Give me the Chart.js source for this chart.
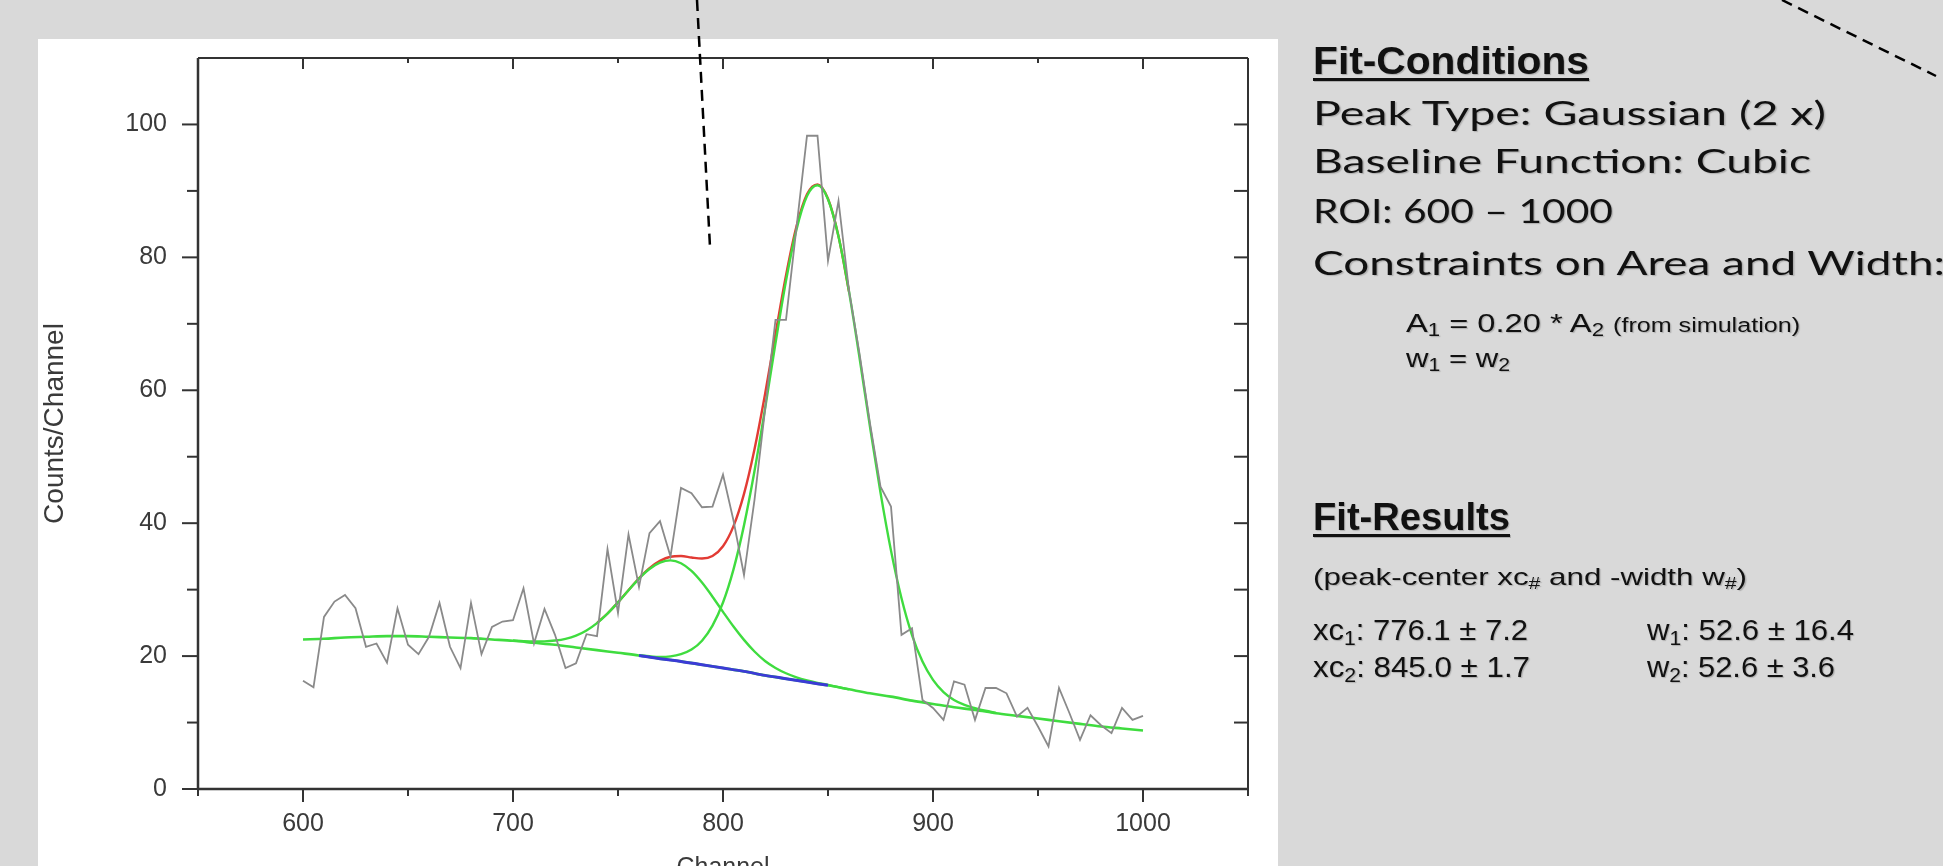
<!DOCTYPE html>
<html>
<head>
<meta charset="utf-8">
<title>Peak fit</title>
<script src="https://cdn.jsdelivr.net/npm/chart.js@4.4.1/dist/chart.umd.min.js"></script>
<style>
  html, body { margin: 0; padding: 0; }
  body {
    width: 1943px; height: 866px; overflow: hidden;
    background: #d9d9d9; position: relative;
    font-family: 'Liberation Sans', Arial, sans-serif; color: #111;
  }
  #panel { position: absolute; left: 38px; top: 39px; width: 1240px; height: 840px; background: #fff; }
  #chartBox { position: absolute; left: 38px; top: 39px; width: 1240px; height: 860px; }
  #marks { position: absolute; left: 0; top: 0; pointer-events: none; }
  .ln {
    position: absolute; white-space: nowrap; line-height: 1;
    transform-origin: 0 0; text-shadow: 1px 1px 1px rgba(0,0,0,0.2);
  }
  .hd { font-weight: bold; text-decoration: underline; text-decoration-thickness: 3px; text-underline-offset: 4px; }
  .body { font-family: 'Lato', 'Open Sans', sans-serif; font-size: 32px; }
  .ln sub { font-size: 0.68em; vertical-align: -0.25em; }
  .small { font-size: 20px; }
</style>
</head>
<body>
<div id="panel"></div>
<div id="chartBox"><canvas id="fitChart" width="1240" height="860"></canvas></div>

<svg id="marks" width="1943" height="866">
  <line x1="697" y1="0" x2="710" y2="247" stroke="#000" stroke-width="2.5" stroke-dasharray="11 7"/>
  <line x1="1782" y1="0" x2="1936" y2="76" stroke="#000" stroke-width="2.5" stroke-dasharray="11 7"/>
</svg>

<div class="ln hd" style="left:1313px;top:42px;font-size:38px" data-w="276">Fit-Conditions</div>
<div class="ln body" style="left:1313px;top:97px" data-w="513">Peak Type: Gaussian (2 x)</div>
<div class="ln body" style="left:1313px;top:145px" data-w="498">Baseline Function: Cubic</div>
<div class="ln body" style="left:1313px;top:195px" data-w="300">ROI: 600 – 1000</div>
<div class="ln body" style="left:1313px;top:247px" data-w="632">Constraints on Area and Width:</div>
<div class="ln" style="left:1406px;top:310px;font-size:26px" data-w="394">A<sub>1</sub> = 0.20 * A<sub>2</sub> <span class="small">(from simulation)</span></div>
<div class="ln" style="left:1406px;top:345px;font-size:26px" data-w="104">w<sub>1</sub> = w<sub>2</sub></div>

<div class="ln hd" style="left:1313px;top:497px;font-size:39px" data-w="197">Fit-Results</div>
<div class="ln" style="left:1313px;top:565px;font-size:24px" data-w="434">(peak-center xc<sub>#</sub> and -width w<sub>#</sub>)</div>
<div class="ln" style="left:1313px;top:616px;font-size:29px" data-w="215">xc<sub>1</sub>: 776.1 ± 7.2</div>
<div class="ln" style="left:1313px;top:653px;font-size:29px" data-w="217">xc<sub>2</sub>: 845.0 ± 1.7</div>
<div class="ln" style="left:1647px;top:616px;font-size:29px" data-w="207">w<sub>1</sub>: 52.6 ± 16.4</div>
<div class="ln" style="left:1647px;top:653px;font-size:29px" data-w="188">w<sub>2</sub>: 52.6 ± 3.6</div>

<script>
// measured spectrum (every 5 channels)
const channels = [600,605,610,615,620,625,630,635,640,645,650,655,660,665,670,675,680,685,690,695,
  700,705,710,715,720,725,730,735,740,745,750,755,760,765,770,775,780,785,790,795,
  800,805,810,815,820,825,830,835,840,845,850,855,860,865,870,875,880,885,890,895,
  900,905,910,915,920,925,930,935,940,945,950,955,960,965,970,975,980,985,990,995,1000];
const counts = [16.3,15.3,25.9,28.2,29.2,27.2,21.4,21.9,19.0,27.2,
  21.7,20.3,22.9,28.0,21.4,18.2,28.0,20.3,24.4,25.2,
  25.4,30.2,21.9,27.1,23.2,18.2,18.9,23.3,23.0,36.1,
  26.5,38.3,30.4,38.5,40.3,35.0,45.3,44.5,42.4,42.5,
  47.3,40.4,32.2,43.5,57.0,70.6,70.6,84.5,98.3,98.3,
  79.5,88.5,75.0,65.5,55.0,45.5,42.5,23.2,24.2,13.4,
  12.2,10.4,16.2,15.7,10.4,15.2,15.2,14.4,10.9,12.2,
  9.4,6.4,15.2,11.4,7.4,11.1,9.6,8.4,12.2,10.4,11.0];

// cubic baseline
const baseChannels = [600,610,620,630,640,650,660,670,680,690,700,710,720,730,740,750,760,770,780,790,
  800,810,820,830,840,850,860,870,880,890,900,910,920,930,940,950,960,970,980,990,1000];
const baseline = [22.5,22.6,22.8,22.9,23.0,23.0,22.9,22.8,22.7,22.5,
  22.3,22.0,21.7,21.3,20.9,20.5,20.1,19.6,19.2,18.7,
  18.2,17.7,17.1,16.6,16.1,15.6,15.0,14.4,13.9,13.3,
  12.8,12.3,11.9,11.4,11.0,10.6,10.2,9.8,9.4,9.1,8.8];

// peak 1 on baseline
const peak1Channels = [700,705,710,715,720,725,730,735,740,745,750,755,760,765,770,775,780,785,790,795,
  800,805,810,815,820,825,830,835,840,845,850,855,860];
const peak1 = [22.35,22.24,22.19,22.21,22.34,22.60,23.08,23.86,24.96,26.39,
  28.08,29.90,31.67,33.11,34.05,34.40,33.97,32.81,31.06,28.94,
  26.66,24.45,22.44,20.69,19.27,18.22,17.42,16.81,16.35,15.98,15.66,15.32,15.0];

// peak 2 on baseline
const peak2Channels = [760,765,770,775,780,785,790,795,800,805,810,815,820,825,830,835,840,845,850,855,
  860,865,870,875,880,885,890,895,900,905,910,915,920,925,930];
const peak2 = [20.15,19.97,19.87,19.95,20.29,20.98,22.32,24.58,28.06,33.05,
  39.67,47.84,57.19,67.09,76.46,84.20,89.25,90.85,88.75,83.15,
  74.86,64.94,54.49,44.59,35.87,28.70,23.16,19.18,16.42,14.58,
  13.39,12.65,12.17,11.77,11.45];

// cumulative fit
const fitChannels = [740,745,750,755,760,765,770,775,780,785,790,795,800,805,810,815,820,825,830,835,840,845,850,855,860];
const cumulative = [24.97,26.41,28.08,29.92,31.72,33.23,34.32,34.95,35.06,34.84,
  34.68,35.07,36.52,39.55,44.41,51.13,59.36,68.46,77.28,84.66,89.50,90.98,88.81,83.17,74.86];

// baseline under the peaks
const roiChannels = [760,770,780,790,800,810,820,830,840,850];
const roiBaseline = [20.1,19.6,19.2,18.7,18.2,17.7,17.1,16.6,16.1,15.6];

const xLabels = [600, 700, 800, 900, 1000];
const yLabels = [0, 20, 40, 60, 80, 100];

const pts = (xs, ys) => xs.map((x, i) => ({ x: x, y: ys[i] }));

const tickFont = { family: "'Liberation Sans', Arial, sans-serif", size: 25 };

// frame with ticks on all four sides (Origin style)
const frameTicks = {
  id: 'frameTicks',
  afterDatasetsDraw(chart) {
    const { ctx, chartArea: a, scales: { x, y } } = chart;
    const line = (x1, y1, x2, y2) => { ctx.beginPath(); ctx.moveTo(x1, y1); ctx.lineTo(x2, y2); ctx.stroke(); };
    ctx.save();
    ctx.strokeStyle = '#333';
    ctx.lineWidth = 2;
    line(a.left, a.top, a.right, a.top);
    line(a.right, a.top, a.right, a.bottom);
    ctx.lineWidth = 2.5;
    line(a.left, a.top, a.left, a.bottom + 1);
    line(a.left - 1, a.bottom, a.right + 1, a.bottom);
    ctx.lineWidth = 2;
    x.ticks.forEach(t => {
      const px = x.getPixelForValue(t.value);
      const major = xLabels.includes(t.value);
      line(px, a.bottom, px, a.bottom + (major ? 13 : 7));
      line(px, a.top, px, a.top + (major ? 11 : 5));
    });
    y.ticks.forEach(t => {
      const py = y.getPixelForValue(t.value);
      const major = yLabels.includes(t.value);
      if (t.value < 110) line(a.left - (major ? 16 : 11), py, a.left, py);
      if (t.value > 0 && t.value < 110) line(a.right - 14, py, a.right, py);
    });
    ctx.restore();
  }
};

const fitChart = new Chart(document.getElementById('fitChart'), {
  type: 'line',
  data: {
    datasets: [
      { label: 'Counts', data: pts(channels, counts), borderColor: '#8a8a8a', borderWidth: 1.8, tension: 0, order: 0 },
      { label: 'Baseline (ROI)', data: pts(roiChannels, roiBaseline), borderColor: '#3b3bd6', borderWidth: 3, cubicInterpolationMode: 'monotone', order: 1 },
      { label: 'Baseline', data: pts(baseChannels, baseline), borderColor: '#3fdc3f', borderWidth: 2.6, cubicInterpolationMode: 'monotone', order: 2 },
      { label: 'Peak 1', data: pts(peak1Channels, peak1), borderColor: '#3fdc3f', borderWidth: 2.4, cubicInterpolationMode: 'monotone', order: 3 },
      { label: 'Peak 2', data: pts(peak2Channels, peak2), borderColor: '#3fdc3f', borderWidth: 2.4, cubicInterpolationMode: 'monotone', order: 3 },
      { label: 'Cumulative fit', data: pts(fitChannels, cumulative), borderColor: '#e23b34', borderWidth: 2.4, cubicInterpolationMode: 'monotone', order: 4 }
    ]
  },
  options: {
    responsive: false,
    animation: false,
    elements: { point: { radius: 0, hoverRadius: 0 } },
    layout: { padding: { top: 19, right: 30, left: 0, bottom: 0 } },
    plugins: { legend: { display: false }, tooltip: { enabled: false } },
    scales: {
      x: {
        type: 'linear', min: 550, max: 1050,
        afterFit: s => { s.height = 110; s.paddingLeft = 0; s.paddingRight = 0; },
        grid: { display: false, drawTicks: false },
        border: { display: false },
        ticks: {
          stepSize: 50, autoSkip: false, maxRotation: 0, padding: 20,
          font: tickFont, color: '#3a3a3a',
          callback: v => xLabels.includes(v) ? String(v) : ''
        },
        title: { display: true, text: 'Channel', font: tickFont, color: '#3a3a3a', padding: { top: 0, bottom: 16 } }
      },
      y: {
        min: 0, max: 110,
        afterFit: s => { s.width = 160; s.paddingTop = 0; s.paddingBottom = 0; },
        grid: { display: false, drawTicks: false },
        border: { display: false },
        ticks: {
          stepSize: 10, autoSkip: false, padding: 31,
          font: tickFont, color: '#3a3a3a',
          callback: v => yLabels.includes(v) ? String(v) : ''
        },
        title: { display: true, text: 'Counts/Channel', font: { family: tickFont.family, size: 28 }, color: '#3a3a3a', padding: { top: 0, bottom: 0 } }
      }
    }
  },
  plugins: [frameTicks]
});

// stretch each text line to the width it has on the slide
function fitLines() {
  document.querySelectorAll('.ln').forEach(el => {
    el.style.transform = 'none';
    const w = el.getBoundingClientRect().width;
    el.style.transform = `scaleX(${el.dataset.w / w})`;
  });
}
fitLines();
document.fonts.ready.then(fitLines);
</script>
</body>
</html>
